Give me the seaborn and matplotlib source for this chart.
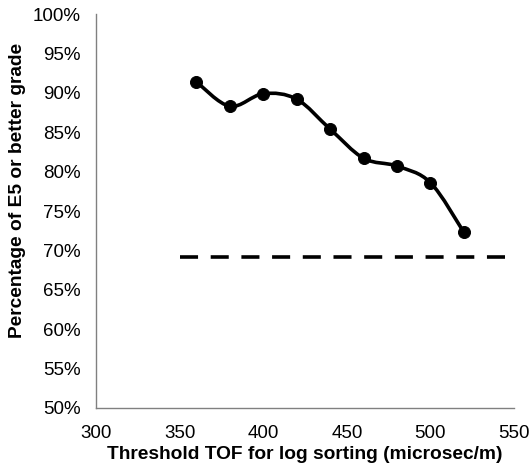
import numpy as np
import pandas as pd
import seaborn as sns
import matplotlib.pyplot as plt
from matplotlib.path import Path
from matplotlib.patches import PathPatch
from matplotlib.ticker import PercentFormatter

sns.set_style("white")
plt.rcParams['font.family'] = ['Liberation Sans', 'DejaVu Sans']
plt.rcParams['text.color'] = 'black'
plt.rcParams['axes.labelcolor'] = 'black'

# threshold TOF values and the share of logs graded E5 or better
tof = [360, 380, 400, 420, 440, 460, 480, 500, 520]
pct_e5 = [91.4, 88.3, 89.9, 89.2, 85.4, 81.7, 80.7, 78.6, 72.3]
# unsorted baseline
baseline_x = [350, 550]
baseline_y = [69.1, 69.1]

df = pd.DataFrame({"tof": tof, "pct": pct_e5})

fig = plt.figure(figsize=(5.31, 4.71), dpi=100)
ax = fig.add_axes([0.181, 0.134, 0.787, 0.836])

# smoothed line (Excel style bezier through the points)
x = np.array(tof, dtype=float)
y = np.array(pct_e5, dtype=float)
verts = [(x[0], y[0])]
codes = [Path.MOVETO]
t = 1 / 6
for i in range(len(x) - 1):
    p0 = (x[max(i - 1, 0)], y[max(i - 1, 0)])
    p1 = (x[i], y[i])
    p2 = (x[i + 1], y[i + 1])
    p3 = (x[min(i + 2, len(x) - 1)], y[min(i + 2, len(x) - 1)])
    c1 = (p1[0] + (p2[0] - p0[0]) * t, p1[1] + (p2[1] - p0[1]) * t)
    c2 = (p2[0] - (p3[0] - p1[0]) * t, p2[1] - (p3[1] - p1[1]) * t)
    verts += [c1, c2, p2]
    codes += [Path.CURVE4] * 3
ax.add_patch(PathPatch(Path(verts, codes), fill=False, lw=2.6, color="black", zorder=2))

sns.scatterplot(data=df, x="tof", y="pct", ax=ax, color="black", s=75,
                edgecolor="black", zorder=3, legend=False)
sns.lineplot(x=baseline_x, y=baseline_y, ax=ax, color="black", lw=2.6,
             dashes=False, zorder=2)
ax.lines[-1].set_dashes([5, 3.5])

ax.set_xlim(300, 550)
ax.set_ylim(50, 100)
ax.set_xticks(range(300, 551, 50))
ax.set_yticks(range(50, 101, 5))
ax.yaxis.set_major_formatter(PercentFormatter(decimals=0))
ax.tick_params(axis="both", length=0, labelsize=13.5, colors="black")
ax.tick_params(axis="y", pad=11)
ax.tick_params(axis="x", pad=12)

for side in ["top", "right"]:
    ax.spines[side].set_visible(False)
for side in ["left", "bottom"]:
    ax.spines[side].set_color("#808080")
    ax.spines[side].set_linewidth(1.0)

ax.set_xlabel("Threshold TOF for log sorting (microsec/m)", fontsize=13.8, fontweight="bold", labelpad=3)
ax.set_ylabel("Percentage of E5 or better grade", fontsize=13.8, fontweight="bold")
ax.yaxis.set_label_coords(-0.168, 0.551)

fig.savefig("out.png", dpi=100)
